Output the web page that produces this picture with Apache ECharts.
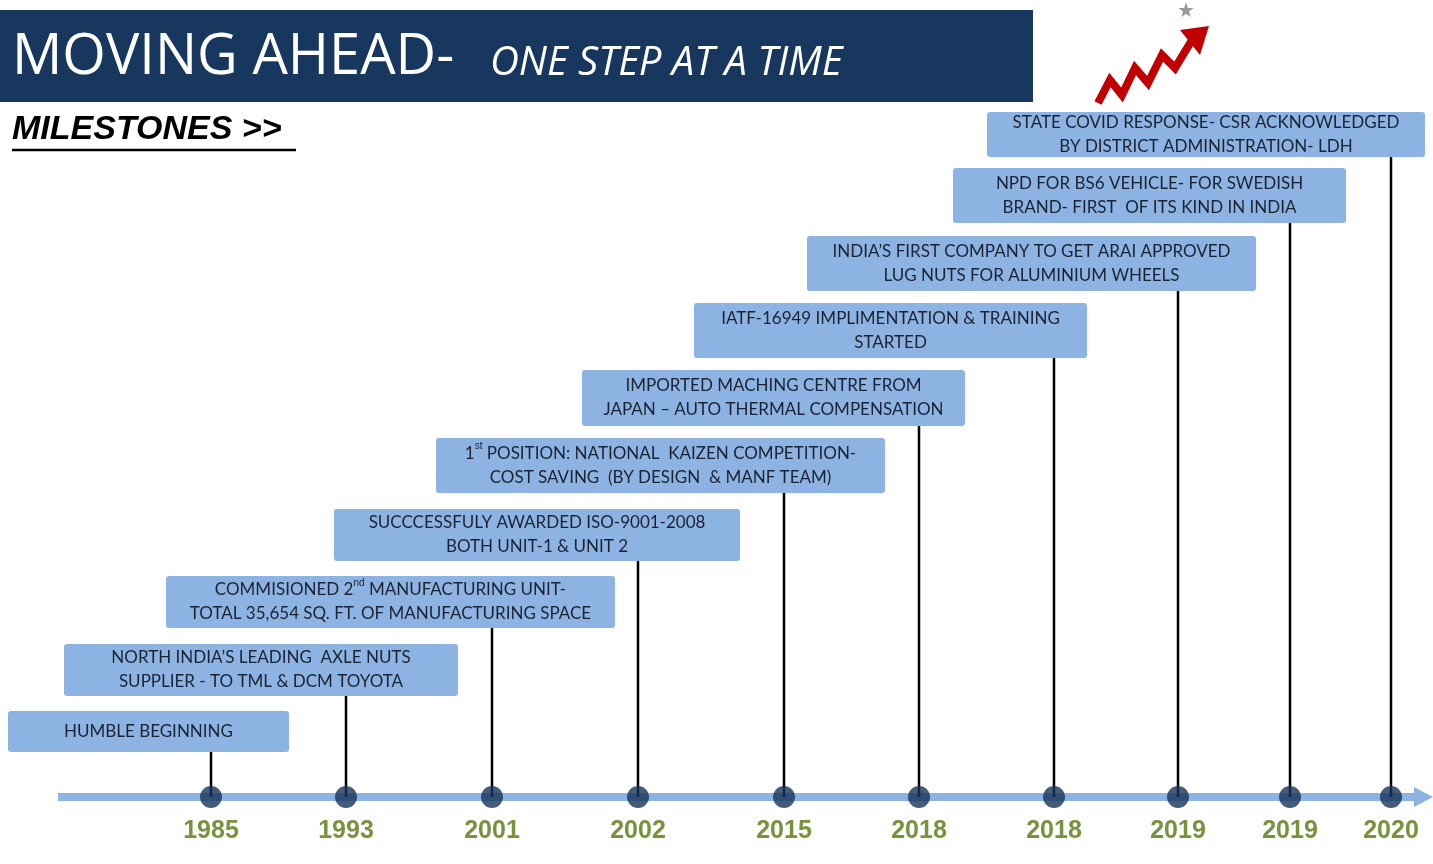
<!DOCTYPE html>
<html><head><meta charset="utf-8">
<script src="https://cdn.jsdelivr.net/npm/echarts@6/dist/echarts.min.js"></script>
<style>html,body{margin:0;padding:0;background:#fff}#c{width:1433px;height:864px}</style>
</head><body><div id="c"></div>
<script>
// milestone data
var years = ['1985','1993','2001','2002','2015','2018','2018','2019','2019','2020'];
var texts = [
  'HUMBLE BEGINNING',
  'NORTH INDIA\u2019S LEADING  AXLE NUTS\nSUPPLIER - TO TML & DCM TOYOTA',
  'COMMISIONED 2{s|nd} MANUFACTURING UNIT-\nTOTAL 35,654 SQ. FT. OF MANUFACTURING SPACE',
  'SUCCCESSFULY AWARDED ISO-9001-2008\nBOTH UNIT-1 & UNIT 2',
  '1{s|st} POSITION: NATIONAL  KAIZEN COMPETITION-\nCOST SAVING  (BY DESIGN  & MANF TEAM)',
  'IMPORTED MACHING CENTRE FROM\nJAPAN \u2013 AUTO THERMAL COMPENSATION',
  'IATF-16949 IMPLIMENTATION & TRAINING\nSTARTED',
  'INDIA\u2019S FIRST COMPANY TO GET ARAI APPROVED\nLUG NUTS FOR ALUMINIUM WHEELS',
  'NPD FOR BS6 VEHICLE- FOR SWEDISH\nBRAND- FIRST  OF ITS KIND IN INDIA',
  'STATE COVID RESPONSE- CSR ACKNOWLEDGED\nBY DISTRICT ADMINISTRATION- LDH'
];
// timeline position of each milestone
var dotX = [211, 346, 492, 638, 784, 919, 1054, 1178, 1290, 1391];
// box extents along the timeline: [left, right, top, bottom]
var boxes = [
  [8, 289, 711, 752], [64, 458, 644, 696], [166, 615, 576, 628], [334, 740, 509, 561],
  [436, 885, 438, 493], [582, 965, 370, 426], [694, 1087, 303, 358], [807, 1256, 236, 291],
  [953, 1346, 168, 223], [987, 1425, 112, 157]
];
var axisY = 797;

var chart = echarts.init(document.getElementById('c'));
var items = dotX.map(function (x, i) { return [x, axisY, i]; });

chart.setOption({
  animation: false,
  grid: { left: 0, right: 0, top: 0, bottom: 0 },
  xAxis: { type: 'value', min: 0, max: 1433, show: false },
  yAxis: { type: 'value', min: 0, max: 864, inverse: true, show: false },
  series: [{
    type: 'custom',
    data: items,
    z: 2,
    renderItem: function (params, api) {
      var i = api.value(2);
      var b = boxes[i];
      var p0 = api.coord([b[0], b[2]]);
      var p1 = api.coord([b[1], b[3]]);
      var d = api.coord([dotX[i], axisY]);
      return {
        type: 'group',
        children: [
          { type: 'line', shape: { x1: d[0], y1: p1[1], x2: d[0], y2: d[1] },
            style: { stroke: '#000', lineWidth: 2.5 } },
          { type: 'rect', shape: { x: p0[0], y: p0[1], width: p1[0] - p0[0], height: p1[1] - p0[1], r: 3 },
            style: { fill: '#8db3e2' } },
          { type: 'text', x: (p0[0] + p1[0]) / 2, y: (p0[1] + p1[1]) / 2,
            style: { text: texts[i], fill: '#1a2333', font: '17px Lato', align: 'center',
              verticalAlign: 'middle', lineHeight: 24,
              rich: { s: { fontSize: 10, verticalAlign: 'top', padding: [0, 0, 8, 0], fill: '#1a2333' } } } },
          { type: 'text', x: d[0], y: d[1] + 34,
            style: { text: years[i], fill: '#77933c', font: 'bold 25px "Liberation Sans"',
              align: 'center', verticalAlign: 'middle' } }
        ]
      };
    }
  }, {
    type: 'scatter',
    data: items,
    symbolSize: 22,
    z: 3,
    itemStyle: { color: '#16345a' }
  }],
  graphic: [
    { type: 'line', shape: { x1: 58, y1: axisY, x2: 1418, y2: axisY }, style: { stroke: '#8db3e2', lineWidth: 8 }, z: 1 },
    { type: 'polygon', shape: { points: [[1414, 787], [1433, 797], [1414, 807]] }, style: { fill: '#8db3e2' } },
    { type: 'rect', shape: { x: 0, y: 10, width: 1033, height: 92 }, style: { fill: '#17375e' } },
    { type: 'text', x: 12, y: 58, style: { text: 'MOVING AHEAD-', fill: '#fff', font: '56px "Open Sans"', verticalAlign: 'middle' } },
    { type: 'text', x: 490, y: 64, style: { text: 'ONE STEP AT A TIME', fill: '#fff', font: 'italic 40px "Open Sans"', verticalAlign: 'middle' } },
    { type: 'text', x: 12, y: 130, style: { text: 'MILESTONES >>', fill: '#000', font: 'italic bold 34px "Liberation Sans"', verticalAlign: 'middle' } },
    { type: 'line', shape: { x1: 12, y1: 150, x2: 296, y2: 150 }, style: { stroke: '#000', lineWidth: 2.5 } },
    { type: 'polyline', shape: { points: [[1098, 103], [1110, 80], [1122, 95], [1135, 68], [1148, 83], [1162, 55], [1175, 68], [1192, 40]] },
      style: { stroke: '#c00000', lineWidth: 8, fill: null } },
    { type: 'polygon', shape: { points: [[1180, 30], [1209, 26], [1200, 55]] }, style: { fill: '#c00000' } },
    { type: 'text', x: 1186, y: 12, style: { text: '\u2605', fill: '#999', font: '20px "DejaVu Sans"', align: 'center', verticalAlign: 'middle' } }
  ]
});
</script></body></html>
